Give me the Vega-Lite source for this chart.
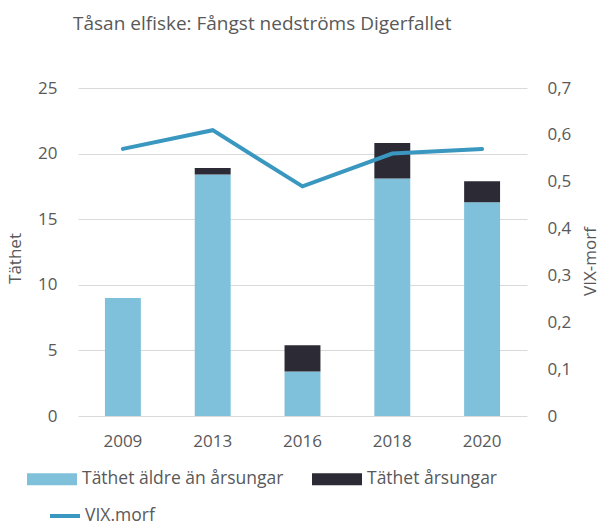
{
  "$schema": "https://vega.github.io/schema/vega-lite/v6.json",
  "width": 449,
  "height": 328,
  "autosize": {"type": "none"},
  "padding": {"left": 78, "top": 88, "right": 79, "bottom": 112},
  "background": "white",
  "config": {
    "font": "Open Sans",
    "view": {"stroke": null},
    "axis": {"labelColor": "#595959", "titleColor": "#595959", "labelFont": "Open Sans", "titleFont": "Open Sans", "labelFontSize": 17, "titleFontSize": 17, "titleFontWeight": "normal", "ticks": false, "domain": false},
    "legend": {"labelColor": "#595959", "labelFont": "Open Sans", "labelFontSize": 17.5, "padding": 0, "labelLimit": 400}
  },
  "title": {
    "text": "Tåsan elfiske: Fångst nedströms Digerfallet",
    "anchor": "start",
    "frame": "group",
    "dx": -5,
    "offset": 45,
    "fontSize": 19,
    "fontWeight": "normal",
    "color": "#595959",
    "font": "Open Sans"
  },
  "data": {
    "values": [
      {"År": "2009", "Täthet äldre än årsungar": 9.0, "Täthet årsungar": 0.0, "VIX": 0.57},
      {"År": "2013", "Täthet äldre än årsungar": 18.4, "Täthet årsungar": 0.5, "VIX": 0.61},
      {"År": "2016", "Täthet äldre än årsungar": 3.4, "Täthet årsungar": 2.0, "VIX": 0.49},
      {"År": "2018", "Täthet äldre än årsungar": 18.1, "Täthet årsungar": 2.7, "VIX": 0.56},
      {"År": "2020", "Täthet äldre än årsungar": 16.3, "Täthet årsungar": 1.6, "VIX": 0.57}
    ]
  },
  "encoding": {
    "x": {
      "field": "År",
      "type": "nominal",
      "sort": null,
      "scale": {"paddingInner": 0.6, "paddingOuter": 0.3},
      "axis": {"title": null, "labelAngle": 0, "labelPadding": 17, "grid": false}
    }
  },
  "layer": [
    {
      "transform": [
        {"fold": ["Täthet äldre än årsungar", "Täthet årsungar"], "as": ["Kategori", "Täthet"]}
      ],
      "mark": {"type": "bar"},
      "encoding": {
        "y": {
          "field": "Täthet",
          "type": "quantitative",
          "stack": "zero",
          "scale": {"domain": [0, 25], "nice": false},
          "axis": {"title": "Täthet", "values": [0, 5, 10, 15, 20, 25], "grid": true, "gridColor": "#d9d9d9", "gridWidth": 1, "labelPadding": 21, "titleX": -63, "titleY": 170, "titleBaseline": "middle", "titleAngle": -90}
        },
        "color": {
          "field": "Kategori",
          "type": "nominal",
          "scale": {"domain": ["Täthet äldre än årsungar", "Täthet årsungar"], "range": ["#7fc0da", "#2b2a35"]},
          "legend": {
            "title": null,
            "orient": "none",
            "direction": "horizontal",
            "legendX": -51,
            "legendY": 366,
            "symbolType": "M-1,-0.24H1V0.24H-1Z",
            "symbolSize": 2500,
            "symbolStrokeWidth": 0,
            "labelOffset": 5,
            "columnPadding": 28
          }
        },
        "order": {"field": "Kategori", "sort": "ascending"}
      }
    },
    {
      "mark": {"type": "line", "strokeWidth": 4, "strokeCap": "round", "strokeJoin": "miter"},
      "encoding": {
        "y": {
          "field": "VIX",
          "type": "quantitative",
          "scale": {"domain": [0, 0.7], "nice": false},
          "axis": {"orient": "right", "title": "VIX-morf", "values": [0, 0.1, 0.2, 0.3, 0.4, 0.5, 0.6, 0.7], "grid": false, "labelPadding": 20, "labelExpr": "datum.value == 0 ? '0' : replace(format(datum.value, '.1f'), '.', ',')", "titleX": 63, "titleY": 173, "titleBaseline": "middle", "titleAngle": -90}
        },
        "stroke": {
          "datum": "VIX.morf",
          "type": "nominal",
          "scale": {"range": ["#3a97bf"]},
          "legend": {
            "title": null,
            "orient": "none",
            "legendX": -30,
            "legendY": 411,
            "symbolType": "stroke",
            "symbolSize": 900,
            "symbolStrokeWidth": 4,
            "labelOffset": 3
          }
        }
      }
    }
  ],
  "resolve": {"scale": {"y": "independent"}}
}
